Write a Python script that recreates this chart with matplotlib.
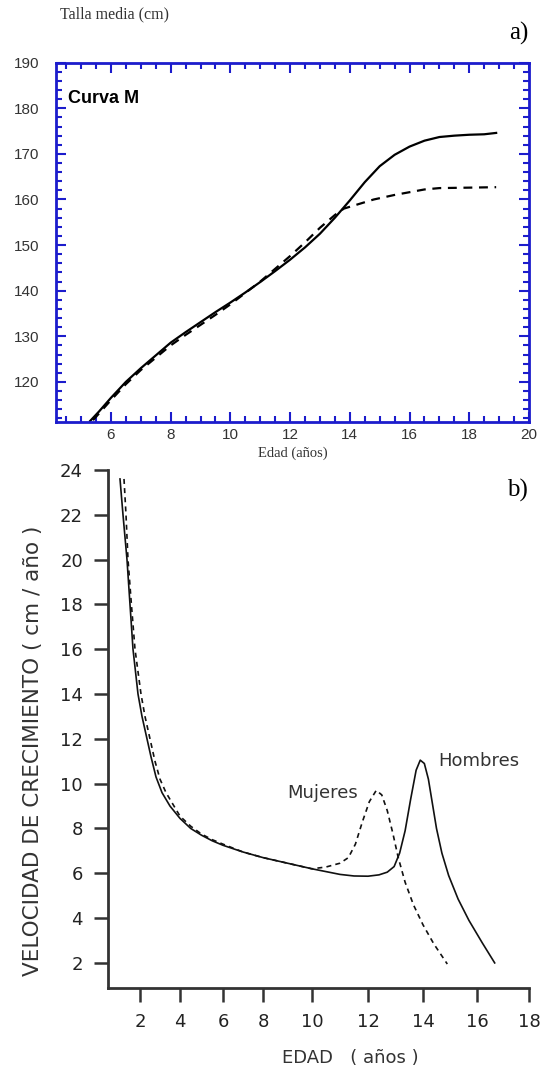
import numpy as np
import matplotlib
matplotlib.use("Agg")
import matplotlib.pyplot as plt
from matplotlib.ticker import MultipleLocator, FixedLocator

# ---- panel a) mean height (cm) vs age
talla_edad_h = [5.3, 5.6, 6.0, 6.5, 7.0, 7.5, 8.0, 8.5, 9.0, 9.5, 10.0, 10.5, 11.0, 11.5, 12.0,
                12.5, 13.0, 13.5, 14.0, 14.5, 15.0, 15.5, 16.0, 16.5, 17.0, 17.5, 18.0, 18.5, 18.9]
talla_h = [111.4, 113.5, 116.5, 120.0, 123.0, 125.8, 128.6, 130.9, 133.1, 135.3, 137.4, 139.6,
           141.9, 144.3, 146.8, 149.5, 152.5, 156.0, 159.8, 163.8, 167.3, 169.8, 171.6, 172.9,
           173.7, 174.0, 174.2, 174.3, 174.6]
talla_edad_m = [5.4, 6.0, 6.5, 7.0, 7.5, 8.0, 8.5, 9.0, 9.5, 10.0, 10.5, 11.0, 11.5, 12.0, 12.5,
                13.0, 13.5, 13.8, 14.2, 14.8, 15.5, 16.0, 16.5, 17.0, 18.0, 18.9]
talla_m = [111.6, 116.0, 119.5, 122.6, 125.3, 128.0, 130.3, 132.5, 134.7, 137.0, 139.5, 142.0,
           144.8, 147.6, 150.6, 153.8, 156.6, 158.0, 158.8, 160.0, 161.0, 161.6, 162.2, 162.5,
           162.6, 162.7]

# ---- panel b) growth velocity (cm/year) vs age
vel_edad_h = [1.0, 1.15, 1.35, 1.5, 1.65, 1.8, 1.9, 2.1, 2.35, 2.55, 2.8, 3.1, 3.5, 4.0, 4.5,
              5.0, 5.5, 6.0, 7.0, 8.0, 9.0, 10.0, 11.0, 11.5, 12.0, 12.4, 12.7, 12.95, 13.15,
              13.35, 13.55, 13.75, 13.9, 14.05, 14.2, 14.35, 14.5, 14.7, 14.95, 15.3, 15.7,
              16.2, 16.68]
vel_h = [23.6, 22.0, 20.0, 18.0, 16.0, 14.8, 14.0, 13.0, 12.0, 11.2, 10.3, 9.6, 9.0, 8.45, 8.0,
         7.7, 7.45, 7.25, 6.95, 6.7, 6.45, 6.2, 5.95, 5.88, 5.87, 5.93, 6.05, 6.3, 6.9,
         7.9, 9.3, 10.6, 11.05, 10.9, 10.2, 9.1, 8.0, 6.9, 5.9, 4.85, 3.9,
         2.9, 2.0]
vel_edad_m = [1.2, 1.3, 1.4, 1.57, 1.75, 1.9, 2.05, 2.25, 2.5, 2.75, 3.0, 3.3, 3.7, 4.0, 4.5,
              5.0, 5.5, 6.0, 7.0, 8.0, 9.0, 10.0, 10.5, 11.0, 11.3, 11.55, 11.8, 12.05, 12.3,
              12.5, 12.7, 12.9, 13.1, 13.35, 13.65, 14.0, 14.4, 14.9]
vel_m = [23.6, 22.0, 20.0, 18.0, 16.0, 15.0, 14.0, 13.0, 12.0, 11.0, 10.2, 9.6, 9.0, 8.55, 8.1,
         7.75, 7.5, 7.3, 6.95, 6.7, 6.45, 6.2, 6.28, 6.45, 6.7, 7.3, 8.3, 9.2, 9.7,
         9.5, 8.8, 7.8, 6.7, 5.6, 4.6, 3.7, 2.85, 1.95]

edad_ticks_a = [6, 8, 10, 12, 14, 16, 18, 20]
talla_ticks = [120, 130, 140, 150, 160, 170, 180, 190]
edad_ticks_b = [2, 4, 6, 8, 10, 12, 14, 16, 18]
vel_ticks = [2, 4, 6, 8, 10, 12, 14, 16, 18, 20, 22, 24]

# the original x axis of panel b) is not evenly spaced
warp_edad = [0, 2, 4, 6, 8, 10, 12, 14, 16, 18, 20]
warp_pos = [100, 140, 180, 223, 263, 312, 368, 423, 477, 529, 581]


def fwd(x):
    return np.interp(x, warp_edad, warp_pos)


def inv(p):
    return np.interp(p, warp_pos, warp_edad)


W, H = 548, 1073
fig = plt.figure(figsize=(W / 100, H / 100), dpi=100)
plt.rcParams['font.family'] = ['Liberation Sans', 'DejaVu Sans']

blue = '#1c1ccc'
# ---------------- panel a
ax1 = fig.add_axes([56 / W, 1 - 422 / H, (529 - 56) / W, (422 - 62.7) / H])
ax1.plot(talla_edad_h, talla_h, color='black', lw=1.6)
ax1.plot(talla_edad_m, talla_m, color='black', lw=1.6, dashes=(4, 3))
ax1.set_xlim(4.16, 20)
ax1.set_ylim(111.2, 190)
ax1.xaxis.set_major_locator(FixedLocator(edad_ticks_a))
ax1.xaxis.set_minor_locator(MultipleLocator(0.5))
ax1.yaxis.set_major_locator(FixedLocator(talla_ticks))
ax1.yaxis.set_minor_locator(MultipleLocator(2))
for s in ax1.spines.values():
    s.set_color(blue)
    s.set_linewidth(2)
ax1.tick_params(which='both', direction='in', color=blue, width=1.5,
                top=True, right=True, labelsize=11, labelcolor='#333333')
ax1.tick_params(which='major', length=7)
ax1.tick_params(which='minor', length=4)
ax1.tick_params(axis='x', which='both', pad=4.5)
ax1.tick_params(axis='y', which='both', pad=12)
ax1.text(0.025, 0.9, 'Curva M', transform=ax1.transAxes, fontsize=13,
         fontweight='bold', va='center', ha='left')
ax1.set_xlabel('Edad (años)', family='Liberation Serif', fontsize=10.5,
               color='#333333', labelpad=3)

fig.text(60 / W, 1 - 14 / H, 'Talla media (cm)', family='Liberation Serif',
         fontsize=11.5, color='#333333', va='center', ha='left')
fig.text(528 / W, 1 - 33 / H, 'a)', family='Liberation Serif', fontsize=18,
         va='center', ha='right')

# ---------------- panel b
gray = '#333333'
sans_b = 'DejaVu Sans'
ax2 = fig.add_axes([108 / W, 1 - 988 / H, (529 - 108) / W, (988 - 470) / H])
ax2.set_xscale('function', functions=(fwd, inv))
ax2.plot(vel_edad_h, vel_h, color='#111111', lw=1.2)
ax2.plot(vel_edad_m, vel_m, color='#111111', lw=1.2, dashes=(3, 2.5))
ax2.set_xlim(0.4, 18)
ax2.set_ylim(0.88, 24)
ax2.xaxis.set_major_locator(FixedLocator(edad_ticks_b))
ax2.xaxis.set_minor_locator(FixedLocator([]))
ax2.yaxis.set_major_locator(FixedLocator(vel_ticks))
for side in ['top', 'right']:
    ax2.spines[side].set_visible(False)
for side in ['left', 'bottom']:
    ax2.spines[side].set_color(gray)
    ax2.spines[side].set_linewidth(2)
ax2.tick_params(which='major', direction='out', length=10, width=1.8, color=gray,
                labelsize=13, labelcolor='#222222', pad=8)
for lab in ax2.get_xticklabels() + ax2.get_yticklabels():
    lab.set_family(sans_b)
ax2.text(14.55, 11.0, 'Hombres', fontsize=13, family=sans_b, color='#333333',
         va='center', ha='left')
ax2.text(11.65, 9.57, 'Mujeres', fontsize=13, family=sans_b, color='#333333',
         va='center', ha='right')

fig.text(33 / W, 1 - 751 / H, 'VELOCIDAD DE CRECIMIENTO ( cm / año )', rotation=90,
         fontsize=15.5, family=sans_b, color='#333333', va='center', ha='center')
fig.text(350 / W, 1 - 1058 / H, 'EDAD   ( años )', fontsize=13, family=sans_b,
         color='#333333', va='center', ha='center')
fig.text(528 / W, 1 - 490 / H, 'b)', family='Liberation Serif', fontsize=18,
         va='center', ha='right')

fig.savefig('out.png', dpi=100)
